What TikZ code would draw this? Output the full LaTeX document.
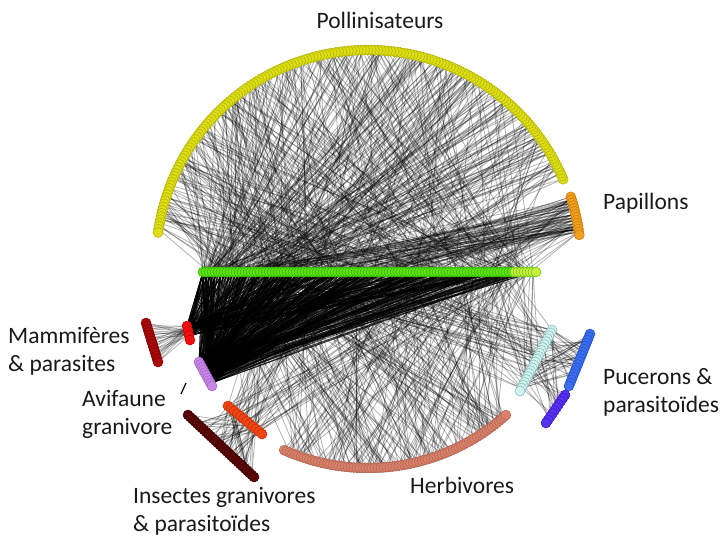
\documentclass[tikz,border=0pt]{standalone}
\usepackage{fontspec}
\setmainfont{Carlito}
\definecolor{pollfill}{RGB}{222,222,20}
\definecolor{pollline}{RGB}{175,175,0}
\definecolor{papfill}{RGB}{240,160,30}
\definecolor{papline}{RGB}{200,120,0}
\definecolor{plantfill}{RGB}{90,228,20}
\definecolor{plantline}{RGB}{50,170,0}
\definecolor{plantend}{RGB}{200,240,60}
\definecolor{aphfill}{RGB}{210,244,240}
\definecolor{aphline}{RGB}{130,180,176}
\definecolor{parafill}{RGB}{60,110,240}
\definecolor{paraline}{RGB}{30,80,200}
\definecolor{hypfill}{RGB}{85,50,240}
\definecolor{hypline}{RGB}{60,20,200}
\definecolor{herbfill}{RGB}{216,130,106}
\definecolor{herbline}{RGB}{176,96,80}
\definecolor{seedfill}{RGB}{240,70,20}
\definecolor{seedline}{RGB}{190,40,0}
\definecolor{seedpfill}{RGB}{92,8,8}
\definecolor{seedpline}{RGB}{60,0,0}
\definecolor{birdfill}{RGB}{200,136,232}
\definecolor{birdline}{RGB}{160,96,192}
\definecolor{mamfill}{RGB}{238,16,16}
\definecolor{mamline}{RGB}{190,0,0}
\definecolor{mampfill}{RGB}{170,10,10}
\definecolor{mampline}{RGB}{120,0,0}
\definecolor{labelgray}{RGB}{25,25,25}
\pgfdeclarelayer{links}
\pgfsetlayers{links,main}

\begin{document}
\begin{tikzpicture}[x=1pt,y=-1pt,
  dot/.style={circle, inner sep=0pt, outer sep=0pt, minimum size=10pt, line width=0.5pt},
  link/.style={draw=black, draw opacity=0.3, line width=0.8pt},
  thick link/.style={draw=black, draw opacity=0.6, line width=0.8pt},
  lbl/.style={text=labelgray, font=\fontsize{23.5}{28}\selectfont, inner sep=0pt, align=left}]
\useasboundingbox (0,0) rectangle (720,538);
\pgfmathsetseed{31}

% guilds
\foreach \i in {1,...,170}
  \node[dot, fill=pollfill, draw=pollline] (po\i) at ({368+212*cos(23+(\i-1)/169*149)},{262-212*sin(23+(\i-1)/169*149)}) {};
\foreach \i in {1,...,14}
  \node[dot, fill=papfill, draw=papline] (pa\i) at ({368+213*cos(17.8-(\i-1)/13*10.5)},{262-213*sin(17.8-(\i-1)/13*10.5)}) {};
\foreach \i in {1,...,104}
  \node[dot, fill=plantfill, draw=plantline] (pl\i) at ({203+3*(\i-1)},272) {};
\foreach \i in {105,...,112}
  \node[dot, fill=plantend, draw=plantline!70!plantend] (pl\i) at ({203+3*(\i-1)},272) {};
\foreach \i in {1,...,80}
  \node[dot, fill=herbfill, draw=herbline] (he\i) at ({368+206*cos(246+(\i-1)/79*66)},{262-206*sin(246+(\i-1)/79*66)}) {};
\foreach \i in {1,...,22}
  \node[dot, fill=aphfill, draw=aphline] (ap\i) at ({552-(\i-1)/21*32},{330+(\i-1)/21*61}) {};
\foreach \i in {1,...,18}
  \node[dot, fill=parafill, draw=paraline] (pr\i) at ({590-(\i-1)/17*21},{334+(\i-1)/17*52}) {};
\foreach \i in {1,...,10}
  \node[dot, fill=hypfill, draw=hypline] (hy\i) at ({565-(\i-1)/9*19},{395+(\i-1)/9*28}) {};
\foreach \i in {1,...,12}
  \node[dot, fill=seedfill, draw=seedline] (se\i) at ({228+(\i-1)/11*34},{406+(\i-1)/11*28}) {};
\foreach \i in {1,...,30}
  \node[dot, fill=seedpfill, draw=seedpline] (sp\i) at ({188+(\i-1)/29*66},{415+(\i-1)/29*62}) {};
\foreach \i in {1,...,10}
  \node[dot, fill=birdfill, draw=birdline] (av\i) at ({199+(\i-1)/9*13},{362+(\i-1)/9*24}) {};
\foreach \i in {1,...,4}
  \node[dot, fill=mamfill, draw=mamline] (ma\i) at ({187+(\i-1)/3*3},{326+(\i-1)/3*14}) {};
\foreach \i in {1,...,14}
  \node[dot, fill=mampfill, draw=mampline] (mp\i) at ({146+(\i-1)/13*12},{323+(\i-1)/13*39}) {};

% interactions
\begin{pgfonlayer}{links}
\foreach \k in {1,...,480}{
  \pgfmathsetmacro{\r}{rnd}
  \pgfmathtruncatemacro{\a}{1+111*\r*(0.4+0.6*\r)}
  \pgfmathtruncatemacro{\b}{1+169*rnd}
  \draw[link] (pl\a) -- (po\b);
}
\foreach \k in {1,...,100}{
  \pgfmathtruncatemacro{\a}{1+111*rnd}
  \pgfmathtruncatemacro{\b}{1+13*rnd}
  \draw[link] (pl\a) -- (pa\b);
}
\foreach \k in {1,...,460}{
  \pgfmathsetmacro{\r}{rnd}
  \pgfmathtruncatemacro{\a}{1+111*\r*(0.3+0.7*\r)}
  \pgfmathtruncatemacro{\b}{1+9*rnd}
  \draw[thick link] (pl\a) -- (av\b);
}
\foreach \k in {1,...,150}{
  \pgfmathsetmacro{\r}{rnd}
  \pgfmathtruncatemacro{\a}{1+111*\r*\r}
  \pgfmathtruncatemacro{\b}{1+3*rnd}
  \draw[thick link] (pl\a) -- (ma\b);
}
\foreach \i in {1,...,14}{
  \pgfmathtruncatemacro{\b}{1+3*rnd}
  \draw[link] (mp\i) -- (ma\b);
  \draw[link] (mp\i) -- (ma2);
}
\foreach \k in {1,...,200}{
  \pgfmathtruncatemacro{\a}{1+111*rnd}
  \pgfmathtruncatemacro{\b}{1+79*rnd}
  \draw[link] (pl\a) -- (he\b);
}
\foreach \k in {1,...,60}{
  \pgfmathtruncatemacro{\a}{1+111*rnd}
  \pgfmathtruncatemacro{\b}{1+21*rnd}
  \draw[link] (pl\a) -- (ap\b);
}
\foreach \k in {1,...,40}{
  \pgfmathtruncatemacro{\a}{1+21*rnd}
  \pgfmathtruncatemacro{\b}{1+17*rnd}
  \draw[link] (ap\a) -- (pr\b);
}
\foreach \k in {1,...,20}{
  \pgfmathtruncatemacro{\a}{1+21*rnd}
  \pgfmathtruncatemacro{\b}{1+9*rnd}
  \draw[link] (ap\a) -- (hy\b);
}
\foreach \k in {1,...,50}{
  \pgfmathtruncatemacro{\a}{1+111*rnd}
  \pgfmathtruncatemacro{\b}{1+11*rnd}
  \draw[link] (pl\a) -- (se\b);
}
\foreach \k in {1,...,60}{
  \pgfmathtruncatemacro{\a}{1+29*rnd}
  \pgfmathtruncatemacro{\b}{1+11*rnd}
  \draw[link] (sp\a) -- (se\b);
}
\end{pgfonlayer}

\coordinate (tickA) at (181,394);
\coordinate (tickB) at (186,383);
\draw[line width=1.2pt] (tickA) -- (tickB);

% guild names
\node[lbl] (tpoll) at (380,20) {Pollinisateurs};
\node[lbl, anchor=west] (tpap) at (603,203) {Papillons};
\node[lbl, anchor=west] (tmam) at (8,351) {Mammifères\\\& parasites};
\node[lbl, anchor=west] (tbird) at (82,414) {Avifaune\\granivore};
\node[lbl, anchor=west] (tseed) at (133,511) {Insectes granivores\\\& parasitoïdes};
\node[lbl, anchor=west] (therb) at (410,485) {Herbivores};
\node[lbl, anchor=west] (taph) at (603,392) {Pucerons \&\\parasitoïdes};
\end{tikzpicture}
\end{document}
